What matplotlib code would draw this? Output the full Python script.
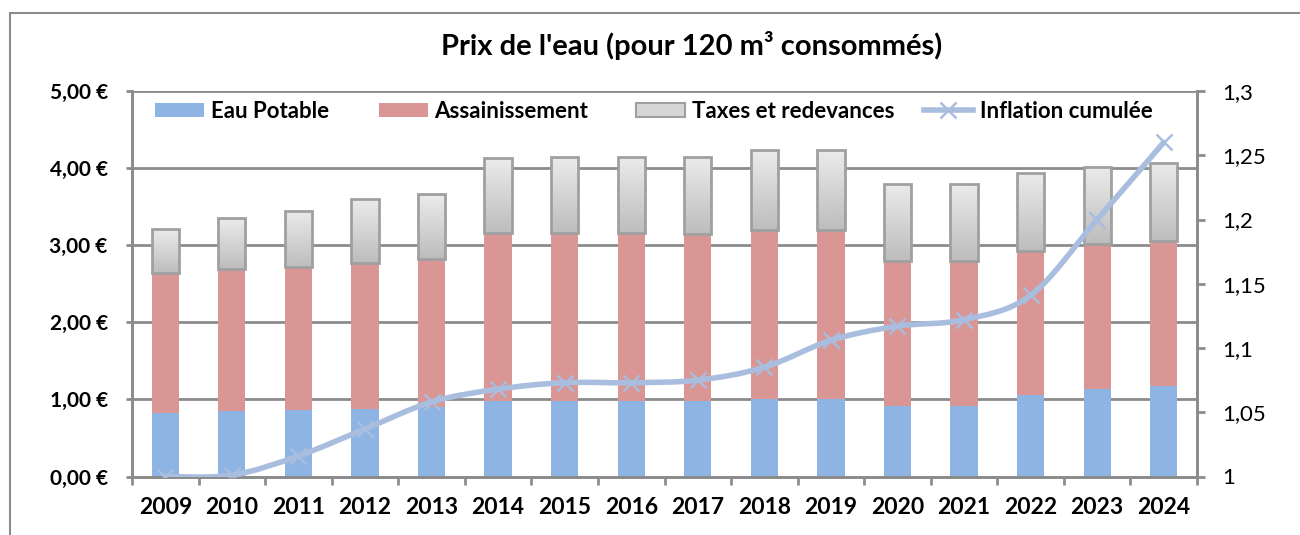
import numpy as np
import matplotlib
matplotlib.use('Agg')
import matplotlib.pyplot as plt
from matplotlib.path import Path
from matplotlib.patches import PathPatch, Rectangle, Patch
from matplotlib.lines import Line2D
from matplotlib.ticker import FuncFormatter, MultipleLocator

plt.rcParams['font.family'] = ['Lato', 'DejaVu Sans']

years = [str(y) for y in range(2009, 2025)]
eau_potable = [0.83, 0.845, 0.86, 0.88, 0.90, 0.975, 0.975, 0.975, 0.975, 1.00,
               1.00, 0.92, 0.92, 1.06, 1.13, 1.18]
assainissement = [1.81, 1.845, 1.86, 1.89, 1.92, 2.185, 2.185, 2.185, 2.175, 2.20,
                  2.20, 1.88, 1.88, 1.87, 1.88, 1.87]
taxes = [0.57, 0.66, 0.73, 0.83, 0.84, 0.97, 0.98, 0.98, 0.99, 1.03,
         1.03, 0.99, 0.99, 1.00, 1.00, 1.02]
inflation = [1.000, 1.001, 1.016, 1.037, 1.058, 1.068, 1.073, 1.073, 1.075, 1.085,
             1.106, 1.117, 1.122, 1.141, 1.200, 1.260]
labels = ['Eau Potable', 'Assainissement', 'Taxes et redevances', 'Inflation cumulée']

c_blue = '#8EB4E3'
c_red = '#D99694'
c_line = '#A9BEDF'
c_grid = '#8C8C8C'
W, H = 1300, 535


def smooth_path(x, y):
    # catmull-rom style bezier, like excel "smoothed line"
    pts = np.column_stack([x, y])
    verts = [pts[0]]
    codes = [Path.MOVETO]
    n = len(pts)
    for i in range(n - 1):
        p0 = pts[max(i - 1, 0)]
        p1 = pts[i]
        p2 = pts[i + 1]
        p3 = pts[min(i + 2, n - 1)]
        verts += [p1 + (p2 - p0) / 6.0, p2 - (p3 - p1) / 6.0, p2]
        codes += [Path.CURVE4] * 3
    return Path(verts, codes)


fig = plt.figure(figsize=(13, 5.35), dpi=100)
fig.patches.append(Rectangle((10 / W, -0.1), 1.2, 1 - 13 / H + 0.1,
                             transform=fig.transFigure, fill=False,
                             edgecolor='#8C8C8C', lw=1.5))

ax = fig.add_axes([132 / W, 1 - 476.5 / H, 1065 / W, 385.5 / H])
ax2 = ax.twinx()

x = np.arange(len(years))
w = 0.41
bottom2 = np.array(eau_potable)
bottom3 = bottom2 + np.array(assainissement)

ax.bar(x, eau_potable, w, color=c_blue, zorder=2)
ax.bar(x, assainissement, w, bottom=bottom2, color=c_red, zorder=2)

grad = np.linspace(0.92, 0.74, 64).reshape(-1, 1)
for xi, b, h in zip(x, bottom3, taxes):
    ax.imshow(grad, cmap='gray', vmin=0, vmax=1, aspect='auto', origin='upper',
              extent=[xi - w / 2, xi + w / 2, b, b + h], zorder=2,
              interpolation='bilinear')
    ax.add_patch(Rectangle((xi - w / 2, b), w, h, fill=False,
                           edgecolor='#A0A0A0', lw=2, zorder=3))

ax.set_xlim(-0.5, len(years) - 0.5)
ax.set_ylim(0, 5)
ax.yaxis.set_major_locator(MultipleLocator(1))
ax.yaxis.set_major_formatter(FuncFormatter(lambda v, p: ('%.2f €' % v).replace('.', ',')))
ax.grid(axis='y', color=c_grid, lw=2, zorder=0)
ax.set_axisbelow(True)
ax.set_xticks(x)
ax.set_xticklabels(years, fontweight='bold', fontsize=16.5)
ax.set_xticks(np.arange(-0.5, len(years), 1), minor=True)
ax.tick_params(axis='x', which='major', length=0, pad=15)
ax.tick_params(axis='x', which='minor', length=6, width=2, color=c_grid)
ax.tick_params(axis='y', length=4.5, width=2, color=c_grid, labelsize=15, pad=13)
for lab in ax.get_yticklabels():
    lab.set_fontweight('bold')

ax2.set_ylim(1, 1.3)
ax2.yaxis.set_major_locator(MultipleLocator(0.05))
ax2.yaxis.set_major_formatter(FuncFormatter(lambda v, p: ('%g' % round(v, 2)).replace('.', ',')))
ax2.tick_params(axis='y', length=6, width=2, color=c_grid, labelsize=16, pad=12)

for a in (ax, ax2):
    for s in a.spines.values():
        s.set_color(c_grid)
        s.set_linewidth(2)
    a.spines['top'].set_visible(False)

ax2.add_patch(PathPatch(smooth_path(x, inflation), fill=False, edgecolor=c_line,
                        lw=4, capstyle='round', joinstyle='round', zorder=4))
ax2.plot(x, inflation, ls='none', marker='x', ms=11, mew=1.8, color=c_line, zorder=5)

handles = [Patch(facecolor=c_blue, edgecolor='none'),
           Patch(facecolor=c_red, edgecolor='none'),
           Patch(facecolor='#D6D6D6', edgecolor='#A0A0A0', lw=1.5),
           Line2D([], [], color=c_line, lw=4, marker='x', ms=11, mew=1.8)]
leg_x = [155, 379, 636, 924]
for hd, lb, lx in zip(handles, labels, leg_x):
    leg = fig.legend([hd], [lb], loc='center left', frameon=False,
                     bbox_to_anchor=(lx / W, 1 - 111 / H), borderpad=0,
                     borderaxespad=0, handlelength=2.2, handleheight=0.6,
                     handletextpad=0.3, prop={'weight': 'bold', 'size': 16})

fig.text(692 / W, 1 - 46 / H, "Prix de l'eau (pour 120 m³ consommés)", ha='center',
         va='center', fontsize=21, fontweight='bold')

fig.savefig('out.png', dpi=100)
